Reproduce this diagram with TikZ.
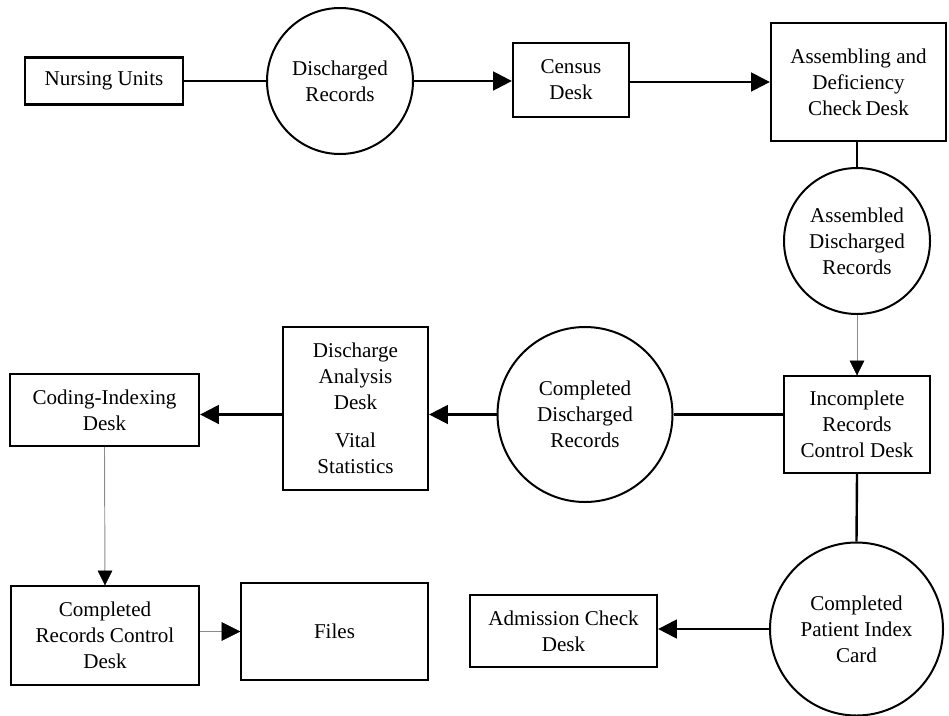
\documentclass[tikz,border=0pt]{standalone}
\usepackage{fontspec}
\setmainfont{Liberation Serif}
\usetikzlibrary{arrows.meta}
\begin{document}
\begin{tikzpicture}[x=0.75pt,y=-0.75pt,
  every node/.style={font=\fontsize{15.8}{19.5}\selectfont, align=center, inner sep=0pt},
  desk/.style={draw, line width=1.7pt, rectangle},
  store/.style={draw, line width=1.5pt, circle},
  flow/.style={line width=1.8pt},
  tip/.style={-{Triangle[length=14pt,width=14pt]}},
  thinflow/.style={line width=0.7pt, draw=black!45}]
\useasboundingbox (0,0) rectangle (949,715);
\node[desk, minimum width=118.5pt, minimum height=35.25pt] (nurs) at (104,81) {Nursing Units};
\node[store, minimum size=109.5pt] (dr) at (340,81) {Discharged\\Records};
\node[desk, minimum width=87pt, minimum height=55.5pt] (census) at (571,80) {Census\\Desk};
\node[desk, minimum width=131.25pt, minimum height=88.5pt] (assem) at (858.5,82) {Assembling and\\Deficiency\\Check\,Desk};
\node[store, minimum size=109.5pt] (adr) at (857,241) {Assembled\\Discharged\\Records};
\node[desk, minimum width=109.5pt, minimum height=72.75pt] (incomp) at (857,424.5) {Incomplete\\Records\\Control Desk};
\node[store, minimum size=131.25pt] (cdr) at (585,414.5) {Completed\\Discharged\\Records};
\node[desk, minimum width=108.75pt, minimum height=122.25pt] (dad) at (355.5,408.5) {Discharge\\Analysis\\Desk\\[9pt]Vital\\Statistics};
\node[desk, minimum width=141.75pt, minimum height=54pt] (coding) at (104.5,410) {Coding-Indexing\\Desk};
\node[desk, minimum width=141pt, minimum height=74.25pt] (crcd) at (105,635.5) {Completed\\Records Control\\Desk};
\node[desk, minimum width=140.25pt, minimum height=72.75pt] (files) at (334.5,631.5) {Files};
\node[desk, minimum width=140.25pt, minimum height=54pt] (admis) at (563.5,631) {Admission Check\\Desk};
\node[store, minimum size=129.75pt] (cpic) at (856.5,629) {Completed\\Patient Index\\Card};

\draw[flow] (nurs.east) -- (dr.west);
\draw[flow, tip] (dr.east) -- (dr.east -| census.west);
\draw[flow, tip] (census.east |- 0,82) -- (assem.west |- 0,82);
\draw[flow] (assem.south -| adr.north) -- (adr.north);
\draw[thinflow] (adr.south) -- (incomp.north);
\draw[fill=black] (incomp.north) -- ++(-7,-14) -- ++(14,0) -- cycle;
\draw[flow] (incomp.west |- cdr.east) -- (cdr.east);
\draw[flow, tip] (cdr.west) -- (cdr.west -| dad.east);
\draw[flow, tip] (dad.west |- cdr.west) -- (cdr.west -| coding.east);
\draw[thinflow] (coding.south) -- (crcd.north);
\draw[fill=black] (crcd.north) -- ++(-7,-14) -- ++(14,0) -- cycle;
\draw[thinflow] (crcd.east |- files.west) -- (files.west);
\draw[fill=black] (files.west) -- ++(-18,-9) -- ++(0,18) -- cycle;
\draw[flow] (incomp.south) -- (cpic.north);
\draw[flow, tip] (cpic.west) -- (cpic.west -| admis.east);
\end{tikzpicture}
\end{document}
